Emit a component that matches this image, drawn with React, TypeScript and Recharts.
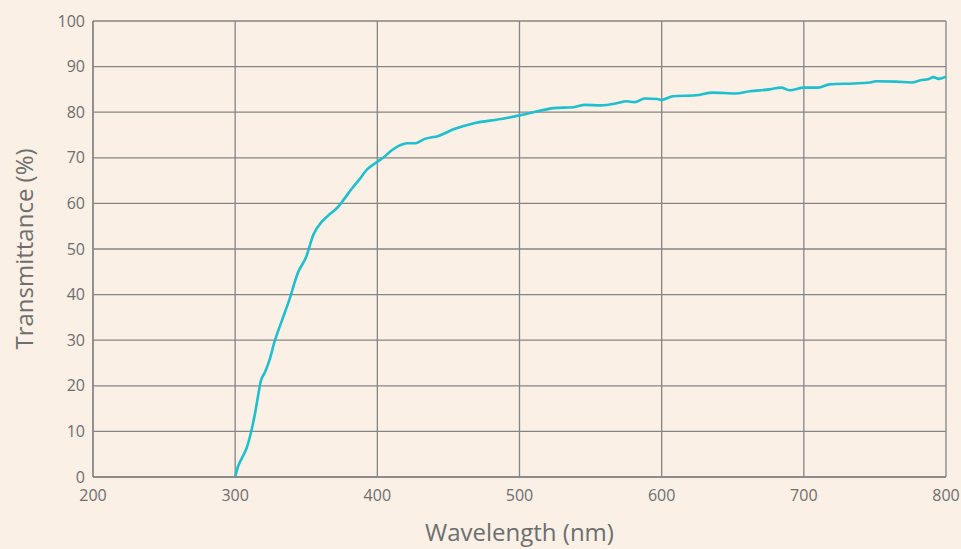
import { LineChart, Line, XAxis, YAxis, CartesianGrid } from 'recharts';

// Transmittance curve
const wavelength = [
  300, 302, 305, 308, 311, 314, 316, 318, 321, 324, 328, 333, 338, 344, 350, 355,
  361, 366, 372, 377, 382, 387, 393, 398, 404, 410, 415, 421, 427, 433, 443, 454,
  468, 487, 500, 510, 524, 538, 546, 557, 569, 575, 581, 588, 597, 600, 608, 624,
  636, 652, 662, 676, 684, 690, 700, 710, 718, 735, 746, 751, 765, 776, 782, 788,
  791, 795, 800,
];
const transmittance = [
  0, 2.3, 4.3, 6.3, 9.6, 14, 17.6, 21, 23, 25.5, 30, 34.4, 38.8, 44.7, 48.3, 53.1,
  56, 57.5, 59.1, 61.1, 63.2, 65.1, 67.5, 68.7, 70, 71.6, 72.6, 73.2, 73.2, 74.1, 74.8, 76.3,
  77.6, 78.5, 79.3, 80, 80.9, 81.1, 81.6, 81.5, 82, 82.4, 82.2, 83, 82.9, 82.7, 83.5, 83.7,
  84.3, 84.1, 84.6, 85, 85.4, 84.8, 85.4, 85.4, 86.1, 86.3, 86.5, 86.8, 86.7, 86.5, 87, 87.3,
  87.7, 87.3, 87.8,
];
const xTicks = [200, 300, 400, 500, 600, 700, 800];
const yTicks = [0, 10, 20, 30, 40, 50, 60, 70, 80, 90, 100];

const data = wavelength.map((w, i) => ({ w, t: transmittance[i] }));

const textGray = '#6e6e6e';
const gridGray = '#858585';
const font = '"Open Sans", "Noto Sans", sans-serif';

export default function App() {
  return (
    <div style={{ position: 'absolute', left: 0, top: 0, width: 961, height: 549, background: '#FAF0E6', fontFamily: font }}>
      <LineChart width={961} height={549} data={data} margin={{ top: 21, right: 15, left: 0, bottom: 0 }}>
        <CartesianGrid stroke={gridGray} strokeWidth={1.3} />
        <XAxis
          dataKey="w"
          type="number"
          domain={[200, 800]}
          ticks={xTicks}
          height={72}
          stroke={gridGray}
          strokeWidth={1.3}
          tickLine={false}
          tickMargin={7}
          tick={{ fontSize: 16, fill: textGray, fontFamily: font }}
          label={{ value: 'Wavelength (nm)', position: 'insideBottom', offset: 8, fill: textGray, fontSize: 24, fontFamily: font }}
        />
        <YAxis
          type="number"
          domain={[0, 100]}
          ticks={yTicks}
          width={93}
          stroke={gridGray}
          strokeWidth={1.3}
          tickLine={false}
          tick={{ fontSize: 16, fill: textGray, fontFamily: font }}
          label={{
            value: 'Transmittance (%)',
            angle: -90,
            position: 'insideLeft',
            offset: 24,
            fill: textGray,
            fontSize: 24,
            fontFamily: font,
            style: { textAnchor: 'middle' },
          }}
        />
        <Line
          type="monotone"
          dataKey="t"
          stroke="#1EBFCE"
          strokeWidth={2.6}
          dot={false}
          isAnimationActive={false}
        />
      </LineChart>
    </div>
  );
}
